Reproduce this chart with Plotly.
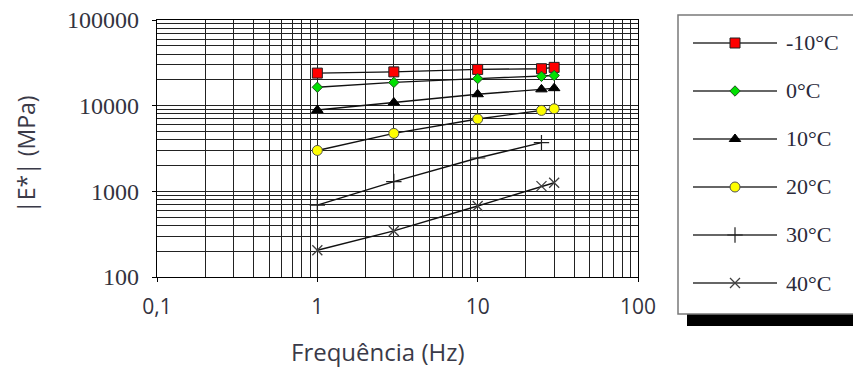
import plotly.graph_objects as go

# Dynamic modulus |E*| versus loading frequency, one series per test temperature
temperatures = ["-10°C", "0°C", "10°C", "20°C", "30°C", "40°C"]
freq_full = [1, 3, 10, 25, 30]
freq_30c = [1, 3, 10, 25]

e_m10 = [24000, 24800, 26500, 27000, 28000]
e_0 = [16400, 18700, 20700, 22000, 22500]
e_10 = [8900, 10900, 13600, 15500, 16000]
e_20 = [3000, 4750, 7000, 8800, 9200]
e_30 = [690, 1300, 2450, 3700]
e_40 = [205, 345, 675, 1150, 1260]

x_ticks = [0.1, 1, 10, 100]
x_tick_text = ["0,1", "1", "10", "100"]
y_ticks = [100, 1000, 10000, 100000]
y_tick_text = ["100", "1000", "10000", "100000"]

series = [
    (freq_full, e_m10, dict(symbol="square", size=10, color="#ff0000", line=dict(color="#202020", width=1))),
    (freq_full, e_0, dict(symbol="diamond", size=8, color="#00e000", line=dict(color="#205020", width=1))),
    (freq_full, e_10, dict(symbol="triangle-up", size=10, color="#000000", line=dict(color="#000000", width=1))),
    (freq_full, e_20, dict(symbol="circle", size=10, color="#ffff00", line=dict(color="#505050", width=1))),
    (freq_30c, e_30, dict(symbol="cross-thin", size=11, color="#202020", line=dict(color="#202020", width=1.2))),
    (freq_full, e_40, dict(symbol="x-thin", size=10, color="#404040", line=dict(color="#404040", width=1.3))),
]

W, H = 853, 369
# plot area in pixels
PL, PR, PT, PB = 157, 638, 20, 277


def px_x(p):
    return p / W


def px_y(p):
    return 1 - p / H


fig = go.Figure()

for (fx, fy, mk), name in zip(series, temperatures):
    fig.add_trace(go.Scatter(
        x=fx, y=fy, mode="lines+markers", name=name,
        line=dict(color="#111111", width=1.4),
        marker=mk, showlegend=False, xaxis="x", yaxis="y",
    ))

# Hand-built legend: a long line sample with the marker centred on it
for i, ((fx, fy, mk), name) in enumerate(zip(series, temperatures)):
    fig.add_trace(go.Scatter(
        x=[0, 1], y=[i, i], mode="lines",
        line=dict(color="#333333", width=1.3),
        showlegend=False, hoverinfo="skip", xaxis="x2", yaxis="y2",
    ))
    fig.add_trace(go.Scatter(
        x=[0.5], y=[i], mode="markers", marker=mk,
        showlegend=False, hoverinfo="skip", xaxis="x2", yaxis="y2",
    ))
    fig.add_annotation(
        x=1, y=i, xref="x2", yref="y2", text=name, showarrow=False,
        xanchor="left", yanchor="middle", xshift=7,
        font=dict(family="Liberation Serif", size=22, color="#2a2a3a"),
    )

minor_x = [m * d for d in [0.1, 1, 10] for m in range(2, 10)]
minor_y = [m * d for d in [100, 1000, 10000] for m in range(2, 10)]

grid_color = "#222222"
grid_width = 1.3

fig.update_layout(
    width=W, height=H, autosize=False,
    margin=dict(l=0, r=0, t=0, b=0, pad=0),
    paper_bgcolor="white", plot_bgcolor="white",
    xaxis=dict(
        type="log", range=[-1, 2], domain=[px_x(PL), px_x(PR)],
        automargin=False,
        tickmode="array", tickvals=x_ticks, ticktext=x_tick_text,
        showgrid=True, gridcolor=grid_color, gridwidth=grid_width,
        showline=True, linecolor="#000000", linewidth=1.3, mirror=True,
        ticks="outside", ticklen=4, tickcolor="#000000",
        ticklabelstandoff=7,
        tickfont=dict(family="Open Sans", size=21, color="#333340"),
        minor=dict(tickmode="array", tickvals=minor_x, showgrid=True,
                   gridcolor=grid_color, gridwidth=grid_width, ticks=""),
        anchor="y", zeroline=False,
    ),
    yaxis=dict(
        type="log", range=[2, 5], domain=[px_y(PB), px_y(PT)],
        automargin=False,
        tickmode="array", tickvals=y_ticks, ticktext=y_tick_text,
        showgrid=True, gridcolor=grid_color, gridwidth=grid_width,
        showline=True, linecolor="#000000", linewidth=1.3, mirror=True,
        ticks="outside", ticklen=4, tickcolor="#000000",
        ticklabelstandoff=8,
        tickfont=dict(family="Liberation Serif", size=24, color="#333340"),
        minor=dict(tickmode="array", tickvals=minor_y, showgrid=True,
                   gridcolor=grid_color, gridwidth=grid_width, ticks=""),
        anchor="x", zeroline=False,
    ),
    xaxis2=dict(domain=[px_x(693), px_x(777)], range=[0, 1], visible=False,
                anchor="y2", fixedrange=True, automargin=False),
    yaxis2=dict(domain=[px_y(307), px_y(19)], range=[5.5, -0.5], visible=False,
                anchor="x2", fixedrange=True, automargin=False),
    shapes=[
        # legend drop shadow
        dict(type="rect", xref="paper", yref="paper", layer="below",
             x0=px_x(687), x1=1.02, y0=px_y(326), y1=px_y(314),
             fillcolor="#000000", line=dict(width=0)),
        # legend frame
        dict(type="rect", xref="paper", yref="paper", layer="below",
             x0=px_x(678), x1=1.02, y0=px_y(314), y1=px_y(15),
             fillcolor="#ffffff", line=dict(color="#7a7a7a", width=1.5)),
    ],
    annotations=list(fig.layout.annotations) + [
        dict(text="|E*| (MPa)", xref="paper", yref="paper",
             x=px_x(26), y=px_y(154), showarrow=False, textangle=-90,
             xanchor="center", yanchor="middle",
             font=dict(family="Open Sans", size=23, color="#3a3a48")),
        dict(text="Frequência (Hz)", xref="paper", yref="paper",
             x=px_x(378), y=px_y(351), showarrow=False,
             xanchor="center", yanchor="middle",
             font=dict(family="Open Sans", size=24, color="#3a3a48")),
    ],
)

fig.write_html("out.html")
